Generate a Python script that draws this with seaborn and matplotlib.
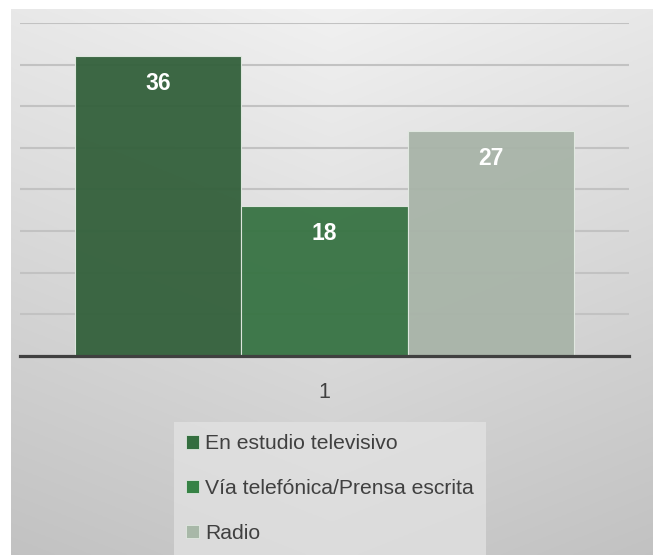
import numpy as np
import pandas as pd
import matplotlib
matplotlib.use("Agg")
import matplotlib.pyplot as plt
from matplotlib.patches import Patch
import seaborn as sns

# Data
categorias = ["1"]
medios = ["En estudio televisivo", "Vía telefónica/Prensa escrita", "Radio"]
valores = [36, 18, 27]
colores = ["#2b6836", "#2d7d3d", "#a6b6a6"]

sns.set_style("white")
plt.rcParams["font.family"] = ["Liberation Sans", "DejaVu Sans"]

W, H = 658, 555
fig = plt.figure(figsize=(W / 100, H / 100), dpi=100)
fig.patch.set_facecolor("white")

# Gradient panel behind the chart
bg = fig.add_axes([11 / W, 0, (653 - 11) / W, (H - 9) / H], zorder=-10)
ny, nx = 300, 300
yy, xx = np.mgrid[0:1:ny * 1j, 0:1:nx * 1j]
shade = 0.945 - 0.15 * yy - 0.035 * np.abs(xx - 0.5) * 2
bg.imshow(np.dstack([shade] * 3), aspect="auto", extent=[0, 1, 0, 1], origin="upper")
bg.set_axis_off()

df = pd.DataFrame({
    "cat": categorias * len(medios),
    "medio": medios,
    "valor": valores,
})

ax = fig.add_axes([20 / W, (H - 356) / H, 609 / W, 333 / H])
ax.patch.set_alpha(0)
sns.barplot(data=df, x="cat", y="valor", hue="medio", hue_order=medios,
            palette=colores, width=0.82, alpha=0.95, edgecolor="#e2eae2",
            linewidth=0.8, legend=False, ax=ax, zorder=3)

ax.set_xlim(-0.5, 0.5)
ax.set_ylim(0, 40)
ax.set_yticks(np.arange(5, 41, 5))
ax.yaxis.grid(True, color="#c2c2c2", linewidth=1.5, zorder=0)
ax.set_axisbelow(True)
ax.tick_params(axis="y", left=False, labelleft=False)
ax.tick_params(axis="x", bottom=False, pad=15, labelsize=15.5, labelcolor="#404040")
ax.set_xlabel("")
ax.set_ylabel("")
for s in ["top", "left", "right"]:
    ax.spines[s].set_visible(False)
ax.spines["bottom"].set_color("#404040")
ax.spines["bottom"].set_linewidth(2.3)
ax.spines["bottom"].set_zorder(5)

# Value labels inside the top of each bar
for cont in ax.containers:
    for bar in cont:
        h = bar.get_height()
        ax.annotate(f"{h:.0f}", (bar.get_x() + bar.get_width() / 2, h),
                    xytext=(0, -19.5), textcoords="offset points",
                    ha="center", va="center", color="white",
                    fontsize=16.5, fontweight="bold", zorder=6)

handles = [Patch(facecolor=c, edgecolor="#e2eae2", linewidth=0.6, alpha=0.95) for c in colores]
leg = fig.legend(handles, medios, loc="upper left",
                 bbox_to_anchor=(174 / W, 1 - 422 / H), frameon=True,
                 fontsize=15.2, handlelength=0.6, handleheight=0.6,
                 handletextpad=0.3, labelspacing=1.22, borderpad=0.58,
                 borderaxespad=0)
leg.get_frame().set_facecolor("#e4e4e4")
leg.get_frame().set_edgecolor("none")
leg.get_frame().set_alpha(0.7)
leg.get_frame().set_boxstyle("square", pad=0)
for t in leg.get_texts():
    t.set_color("#404040")

fig.savefig("out.png", dpi=100)
